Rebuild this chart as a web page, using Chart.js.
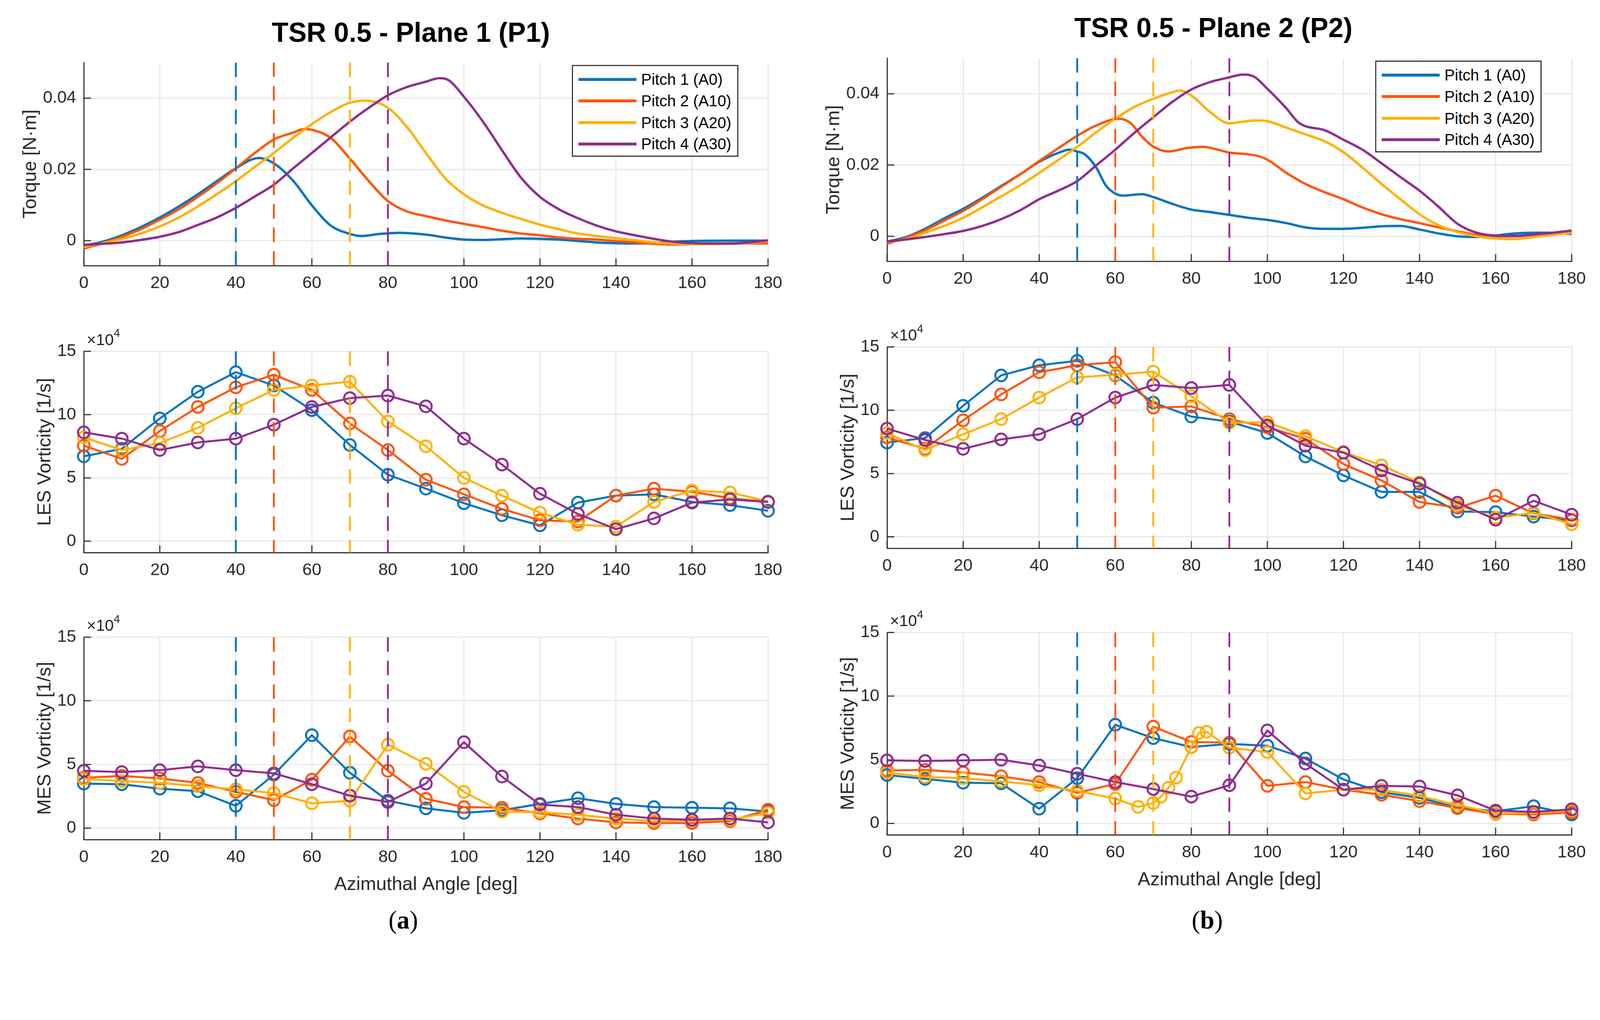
<!DOCTYPE html>
<html>
<head>
<meta charset="utf-8">
<script src="https://cdn.jsdelivr.net/npm/chart.js@4.4.1/dist/chart.umd.min.js"></script>
<style>
  html, body { margin:0; padding:0; background:#fff; overflow:hidden; }
  #wrap { position:relative; overflow:hidden; width:4412px; height:2610px; }
  #stage { position:absolute; left:0; top:0; width:4412px; height:2610px; transform-origin:0 0;
           font-family:'Liberation Sans', Arial, sans-serif; color:#262626; }
  .panel { position:absolute; }
  .title { position:absolute; font-weight:bold; font-size:75px; line-height:75px; color:#000;
           transform:translateX(-50%); white-space:nowrap; }
  .legend { position:absolute; width:453px; height:247px; border:3px solid #262626; background:#fff; z-index:5; }
  .legend .row { position:absolute; left:0; height:50px; width:100%; }
  .legend .swatch { position:absolute; left:15px; top:21px; width:160px; height:8px; }
  .legend .lbl { position:absolute; left:188px; top:0; font-size:43px; line-height:50px; color:#000; white-space:nowrap; }
  .exp { position:absolute; font-size:44px; line-height:44px; color:#262626; z-index:5; white-space:nowrap; }
  .exp sup { font-size:31px; position:relative; top:-6px; }
  .sub { position:absolute; font-family:'Liberation Serif', 'Times New Roman', serif; font-size:70px; line-height:70px;
         color:#000; transform:translateX(-50%); }
</style>
</head>
<body>
<div id="wrap"><div id="stage"></div></div>
<script>
// angles of the vorticity samples and axis ticks
const angles = [0,10,20,30,40,50,60,70,80,90,100,110,120,130,140,150,160,170,180];
const angleTicks = [0,20,40,60,80,100,120,140,160,180];
const torqueTicks = [0,0.02,0.04];
const vortTicks = [0,5,10,15];

const pitchLabels = ['Pitch 1 (A0)','Pitch 2 (A10)','Pitch 3 (A20)','Pitch 4 (A30)'];
const pitchColors = ['#0072BD','#FF5309','#FFB000','#8E2C8E'];

// dashed reference angles per plane
const refAnglesP1 = [40,50,70,80];
const refAnglesP2 = [50,60,70,90];

// ---- torque [N m], plane 1
const p1TorqueA0Deg = [0,5,10,15,20,25,30,35,40,46,50,55,60,65,70,73,78,83,90,95,100,105,110,115,120,125,130,135,140,145,150,155,160,170,180];
const p1TorqueA0    = [-0.0014,-0.0003,0.0015,0.0038,0.0065,0.0096,0.013,0.0167,0.0203,0.0232,0.0217,0.0169,0.0099,0.0042,0.0019,0.0013,0.0019,0.0022,0.0017,0.0009,0.0003,0.0002,0.0004,0.0006,0.0005,0.0003,-0.0001,-0.0005,-0.0007,-0.0008,-0.0007,-0.0003,-0.0001,0,0];
const p1TorqueA10Deg = [0,5,10,15,20,25,30,35,40,45,50,55,58,60,65,70,75,80,85,90,95,100,105,110,115,120,125,130,135,140,145,150,155,160,170,180];
const p1TorqueA10    = [-0.0022,-0.0007,0.0011,0.0032,0.0059,0.0088,0.0123,0.0161,0.0203,0.0246,0.0284,0.0303,0.0313,0.0311,0.0288,0.023,0.0167,0.0111,0.0082,0.0069,0.0057,0.0047,0.0038,0.0028,0.002,0.0015,0.0009,0.0005,0.0003,-0.0001,-0.0005,-0.0009,-0.0011,-0.001,-0.0008,-0.0008];
const p1TorqueA20Deg = [0,5,10,15,20,25,30,35,40,45,50,55,60,65,70,74,80,85,90,95,100,105,110,115,120,125,130,135,140,145,150,155,160,170,175,180];
const p1TorqueA20    = [-0.0018,-0.0007,0.0005,0.002,0.004,0.0065,0.0096,0.013,0.0167,0.0207,0.0246,0.0288,0.0327,0.0361,0.0387,0.0393,0.0373,0.0319,0.0246,0.0176,0.013,0.0099,0.0078,0.0061,0.0045,0.0032,0.002,0.0013,0.0007,0.0001,-0.0005,-0.0008,-0.001,-0.0009,-0.0007,-0.0001];
const p1TorqueA30Deg = [0,5,10,15,20,25,30,35,40,45,50,55,60,65,70,75,80,85,90,93.5,96,100,105,110,115,120,125,130,135,140,145,150,155,160,165,170,175,180];
const p1TorqueA30    = [-0.0012,-0.0009,-0.0005,0.0002,0.0011,0.0024,0.0044,0.0065,0.0092,0.0124,0.0157,0.0202,0.0246,0.029,0.0334,0.0373,0.0408,0.0431,0.0446,0.0456,0.045,0.0404,0.0334,0.0254,0.0177,0.0123,0.0088,0.0063,0.0042,0.0026,0.0015,0.0005,-0.0003,-0.0007,-0.0008,-0.0008,-0.0005,0.0001];

// ---- torque [N m], plane 2
const p2TorqueA0Deg = [0,5,10,15,20,25,30,35,40,45,48,50,52,55,57.5,60,62,67,70,75,80,85,90,95,100,105,110,115,120,125,130,135,140,145,150,155,160,165,170,175,180];
const p2TorqueA0    = [-0.0015,-0.0002,0.0021,0.005,0.0077,0.0108,0.0141,0.0174,0.0209,0.0234,0.0243,0.0238,0.023,0.0193,0.0143,0.012,0.0114,0.0118,0.011,0.0091,0.0075,0.0068,0.006,0.0052,0.0046,0.0037,0.0025,0.0021,0.0021,0.0024,0.0028,0.0029,0.0019,0.0008,0,-0.0002,0.0002,0.0008,0.001,0.001,0.0007];
const p2TorqueA10Deg = [0,5,10,15,20,25,30,35,40,45,50,55,61,64,67,70,74,79,83,87,90,95,98,100,105,110,115,120,125,130,135,140,145,150,155,160,165,170,175,180];
const p2TorqueA10    = [-0.0021,-0.0004,0.0017,0.0044,0.0071,0.0104,0.0139,0.0174,0.0211,0.0247,0.0282,0.0311,0.033,0.0318,0.028,0.0252,0.0238,0.0248,0.0251,0.0243,0.0235,0.023,0.0224,0.0215,0.0178,0.0147,0.0124,0.0104,0.0081,0.0062,0.0048,0.0037,0.0025,0.0014,0.0004,0,0,0.0004,0.0008,0.0012];
const p2TorqueA20Deg = [0,5,10,15,20,25,30,35,40,45,50,55,60,65,70,75,77,80,85,90,93,97,100,105,110,115,120,125,130,135,140,145,150,155,160,165,170,175,180];
const p2TorqueA20    = [-0.0017,-0.0008,0.001,0.0029,0.0052,0.0081,0.0112,0.0143,0.0178,0.0214,0.0251,0.0292,0.033,0.0363,0.0386,0.0404,0.0409,0.0395,0.0348,0.0317,0.0321,0.0325,0.0323,0.0305,0.0286,0.0267,0.0236,0.0193,0.0147,0.0104,0.0062,0.0031,0.0012,0,-0.0006,-0.0008,-0.0002,0.0004,0.001];
const p2TorqueA30Deg = [0,5,10,15,20,25,30,35,40,45,50,55,60,65,70,75,80,85,90,93.5,96.5,100,105,108,110,115,120,125,130,135,140,145,150,155,160,165,170,175,180];
const p2TorqueA30    = [-0.0015,-0.0009,-0.0002,0.0006,0.0015,0.0029,0.0048,0.0073,0.0104,0.0128,0.0155,0.0199,0.0243,0.029,0.0334,0.0377,0.0412,0.0433,0.0446,0.0454,0.0448,0.0414,0.0359,0.0321,0.0309,0.0298,0.0271,0.0243,0.0205,0.0166,0.0128,0.0083,0.0035,0.001,0.0002,0.0001,0.0005,0.001,0.0016];

// ---- LES vorticity [1/s], in units of 1e4
const p1LesA0  = [6.7,7.3,9.7,11.8,13.35,12.3,10.35,7.6,5.25,4.15,3.0,2.05,1.25,3.05,3.6,3.7,3.1,2.85,2.4];
const p1LesA10 = [7.55,6.5,8.7,10.6,12.15,13.15,11.95,9.3,7.2,4.85,3.7,2.55,1.65,1.55,3.6,4.15,3.9,3.4,3.1];
const p1LesA20 = [8.2,7.2,7.75,8.95,10.5,11.95,12.3,12.6,9.45,7.5,5.0,3.6,2.25,1.3,1.15,3.1,4.0,3.85,3.15];
const p1LesA30 = [8.6,8.1,7.2,7.8,8.1,9.2,10.6,11.3,11.5,10.65,8.1,6.05,3.75,2.15,0.95,1.8,3.05,3.3,3.1];
const p2LesA0  = [7.45,7.8,10.35,12.75,13.55,13.9,12.75,10.6,9.5,9.1,8.2,6.35,4.85,3.55,3.55,2.0,1.95,1.6,1.3];
const p2LesA10 = [7.85,6.95,9.2,11.25,13.0,13.55,13.8,10.2,10.3,9.3,8.65,7.75,5.75,4.45,2.75,2.3,3.25,1.85,1.35];
const p2LesA20 = [8.2,6.85,8.1,9.3,11.0,12.6,12.8,13.05,11.1,9.0,9.05,7.95,6.7,5.65,4.3,2.5,1.5,1.9,1.0];
const p2LesA30 = [8.55,7.65,6.95,7.7,8.1,9.3,11.0,12.0,11.75,12.0,8.8,7.2,6.65,5.25,4.2,2.7,1.35,2.85,1.75];

// ---- MES vorticity [1/s], in units of 1e4
const p1MesA0  = [3.5,3.45,3.1,2.9,1.75,4.2,7.3,4.35,2.15,1.55,1.2,1.4,1.9,2.35,1.9,1.65,1.6,1.55,1.3];
const p1MesA10 = [3.95,4.1,3.9,3.55,2.85,2.2,3.8,7.2,4.5,2.3,1.65,1.6,1.15,0.75,0.45,0.4,0.4,0.55,1.45];
const p1MesA20 = [3.85,3.7,3.55,3.3,3.05,2.75,1.95,2.15,6.55,5.05,2.85,1.3,1.25,1.05,0.75,0.55,0.6,0.65,1.2];
const p1MesA30 = [4.5,4.4,4.55,4.85,4.55,4.3,3.45,2.55,2.05,3.5,6.75,4.05,1.85,1.65,1.05,0.75,0.65,0.75,0.45];
const p2MesA0  = [3.8,3.5,3.2,3.15,1.15,3.55,7.75,6.7,6.0,6.25,6.1,5.1,3.45,2.45,2.0,1.25,0.95,1.35,0.7];
const p2MesA10 = [4.15,4.2,4.0,3.7,3.25,2.4,3.1,7.6,6.4,6.35,2.95,3.25,2.65,2.25,1.75,1.2,0.75,0.7,0.85];
const p2MesA20Deg = [0,10,20,30,40,50,60,66,70,72,74,76,80,82,84,90,100,110,120,130,140,150,160,170,180];
const p2MesA20    = [4.0,3.65,3.55,3.3,3.0,2.55,1.95,1.3,1.6,2.1,2.8,3.6,6.0,7.1,7.2,5.95,5.6,2.35,2.65,2.65,2.15,1.45,0.8,0.8,1.0];
const p2MesA30 = [4.95,4.9,4.95,5.0,4.55,3.9,3.25,2.7,2.1,3.0,7.3,4.7,2.65,2.95,2.9,2.2,1.0,0.9,1.1];

const AXIS = '#262626';
const GRID = '#e3e3e3';
const FONT = "'Liberation Sans', Arial, sans-serif";
Chart.defaults.font.family = FONT;
Chart.defaults.animation = false;

// the figure is laid out on a 4412 x 2610 sheet, fitted to the viewport width
const stage = document.getElementById('stage');
const wrap = document.getElementById('wrap');
const fit = (window.innerWidth || 4412) / 4412;
stage.style.transform = 'scale(' + fit + ')';
wrap.style.width = Math.floor(4412 * fit) + 'px';
wrap.style.height = Math.floor(2610 * fit) + 'px';

function pts(xs, ys) { return xs.map((x, i) => ({x: x, y: ys[i]})); }

// MATLAB style ticks pointing into the axes
const innerTicks = {
  id: 'innerTicks',
  beforeDatasetsDraw(chart) {
    const {ctx, chartArea: a, scales: {x, y}} = chart;
    ctx.save();
    ctx.strokeStyle = AXIS;
    ctx.lineWidth = 3;
    ctx.beginPath();
    x.ticks.forEach(t => { const px = x.getPixelForValue(t.value); ctx.moveTo(px, a.bottom); ctx.lineTo(px, a.bottom - 20); });
    y.ticks.forEach(t => { const py = y.getPixelForValue(t.value); ctx.moveTo(a.left, py); ctx.lineTo(a.left + 20, py); });
    ctx.stroke();
    ctx.restore();
  }
};

function curveSet(xs, ys, i) {
  return {data: pts(xs, ys), borderColor: pitchColors[i], borderWidth: 6.5, pointRadius: 0,
          cubicInterpolationMode: 'monotone', fill: false, order: 4 - i};
}
function markerSet(xs, ys, i) {
  return {data: pts(xs, ys), borderColor: pitchColors[i], borderWidth: 5.5, tension: 0,
          pointRadius: 16, pointBorderWidth: 5.5, pointBorderColor: pitchColors[i],
          pointBackgroundColor: 'rgba(0,0,0,0)', fill: false, clip: false, order: 4 - i};
}
function refSets(refs, yMin, yMax) {
  return refs.map((a, i) => ({data: [{x: a, y: yMax}, {x: a, y: yMin}], borderColor: pitchColors[i],
          borderWidth: 5, borderDash: [40, 25], pointRadius: 0, fill: false, order: 0}));
}

function makePanel(p) {
  const yW = p.kind === 'torque' ? 178 : 138;
  const xH = p.xlabel ? 156 : 80;
  const padTop = 40, padRight = 60;
  const W = yW + p.axW + padRight, H = padTop + p.axH + xH;
  const div = document.createElement('div');
  div.className = 'panel';
  div.style.left = (p.axL - yW) + 'px';
  div.style.top = (p.axT - padTop) + 'px';
  const cv = document.createElement('canvas');
  cv.width = W; cv.height = H;
  cv.style.width = W + 'px'; cv.style.height = H + 'px';
  div.appendChild(cv);
  stage.appendChild(div);

  const isT = p.kind === 'torque';
  const yMin = isT ? -0.007 : -0.9, yMax = isT ? 0.05 : 15;
  const yTicks = isT ? torqueTicks : vortTicks;

  new Chart(cv.getContext('2d'), {
    type: 'line',
    data: {datasets: p.datasets.concat(refSets(p.refs, yMin, yMax))},
    options: {
      responsive: false, animation: false, events: [],
      layout: {padding: {top: padTop, right: padRight, left: 0, bottom: 0}},
      plugins: {legend: {display: false}, tooltip: {enabled: false}},
      scales: {
        x: {
          type: 'linear', min: 0, max: 180,
          afterBuildTicks: s => { s.ticks = angleTicks.map(v => ({value: v})); },
          afterFit: s => { s.height = xH; },
          grid: {color: GRID, lineWidth: 2.5, drawTicks: false},
          border: {color: AXIS, width: 3},
          ticks: {padding: 21, color: AXIS, font: {size: 47}, maxRotation: 0, autoSkip: false,
                  callback: v => String(v)},
          title: {display: !!p.xlabel, text: 'Azimuthal Angle [deg]', color: AXIS,
                  font: {size: 52}, padding: {top: 0, bottom: 0}}
        },
        y: {
          type: 'linear', min: yMin, max: yMax,
          afterBuildTicks: s => { s.ticks = yTicks.map(v => ({value: v})); },
          afterFit: s => { s.width = yW; },
          grid: {color: GRID, lineWidth: 2.5, drawTicks: false},
          border: {color: AXIS, width: 3},
          ticks: {padding: 21, color: AXIS, font: {size: 47},
                  callback: v => (v === 0 ? '0' : (isT ? v.toFixed(2) : String(v)))},
          title: {display: true, text: p.ylabel, color: AXIS, font: {size: 52}, padding: {top: 0, bottom: 0}}
        }
      }
    },
    plugins: [innerTicks]
  });

  if (!isT) {
    const e = document.createElement('div');
    e.className = 'exp';
    e.innerHTML = '\u00d710<sup>4</sup>';
    e.style.left = (p.axL + 8) + 'px';
    e.style.top = (p.axT - 56) + 'px';
    stage.appendChild(e);
  }
  if (p.legend) {
    const lg = document.createElement('div');
    lg.className = 'legend';
    lg.style.left = p.legend[0] + 'px';
    lg.style.top = p.legend[1] + 'px';
    pitchLabels.forEach((t, i) => {
      const r = document.createElement('div');
      r.className = 'row';
      r.style.top = (12 + i * 59.3) + 'px';
      r.innerHTML = '<span class="swatch" style="background:' + pitchColors[i] + '"></span><span class="lbl">' + t + '</span>';
      lg.appendChild(r);
    });
    stage.appendChild(lg);
  }
}

function torqueSets(list) { return list.map((s, i) => curveSet(s[0], s[1], i)); }
function vortSets(list) { return list.map((s, i) => markerSet(s[0], s[1], i)); }

// left column: plane 1
makePanel({axL: 231, axW: 1887, axT: 163, axH: 569, kind: 'torque', ylabel: 'Torque [N\u00b7m]', refs: refAnglesP1,
  legend: [1577, 179],
  datasets: torqueSets([[p1TorqueA0Deg, p1TorqueA0], [p1TorqueA10Deg, p1TorqueA10], [p1TorqueA20Deg, p1TorqueA20], [p1TorqueA30Deg, p1TorqueA30]])});
makePanel({axL: 231, axW: 1887, axT: 959, axH: 564, kind: 'vort', ylabel: 'LES Vorticity [1/s]', refs: refAnglesP1,
  datasets: vortSets([[angles, p1LesA0], [angles, p1LesA10], [angles, p1LesA20], [angles, p1LesA30]])});
makePanel({axL: 231, axW: 1887, axT: 1747, axH: 567, kind: 'vort', ylabel: 'MES Vorticity [1/s]', refs: refAnglesP1, xlabel: true,
  datasets: vortSets([[angles, p1MesA0], [angles, p1MesA10], [angles, p1MesA20], [angles, p1MesA30]])});

// right column: plane 2
makePanel({axL: 2446, axW: 1888, axT: 151, axH: 569, kind: 'torque', ylabel: 'Torque [N\u00b7m]', refs: refAnglesP2,
  legend: [3792, 167],
  datasets: torqueSets([[p2TorqueA0Deg, p2TorqueA0], [p2TorqueA10Deg, p2TorqueA10], [p2TorqueA20Deg, p2TorqueA20], [p2TorqueA30Deg, p2TorqueA30]])});
makePanel({axL: 2446, axW: 1888, axT: 947, axH: 564, kind: 'vort', ylabel: 'LES Vorticity [1/s]', refs: refAnglesP2,
  datasets: vortSets([[angles, p2LesA0], [angles, p2LesA10], [angles, p2LesA20], [angles, p2LesA30]])});
makePanel({axL: 2446, axW: 1888, axT: 1734, axH: 567, kind: 'vort', ylabel: 'MES Vorticity [1/s]', refs: refAnglesP2, xlabel: true,
  datasets: vortSets([[angles, p2MesA0], [angles, p2MesA10], [p2MesA20Deg, p2MesA20], [angles, p2MesA30]])});

// titles and sub-figure letters
[['TSR 0.5 - Plane 1 (P1)', 1133, 52], ['TSR 0.5 - Plane 2 (P2)', 3346, 39]].forEach(t => {
  const d = document.createElement('div');
  d.className = 'title';
  d.textContent = t[0];
  d.style.left = t[1] + 'px';
  d.style.top = t[2] + 'px';
  stage.appendChild(d);
});
[['a', 1112], ['b', 3329]].forEach(t => {
  const d = document.createElement('div');
  d.className = 'sub';
  d.innerHTML = '(<b>' + t[0] + '</b>)';
  d.style.left = t[1] + 'px';
  d.style.top = '2501px';
  stage.appendChild(d);
});
</script>
</body>
</html>
